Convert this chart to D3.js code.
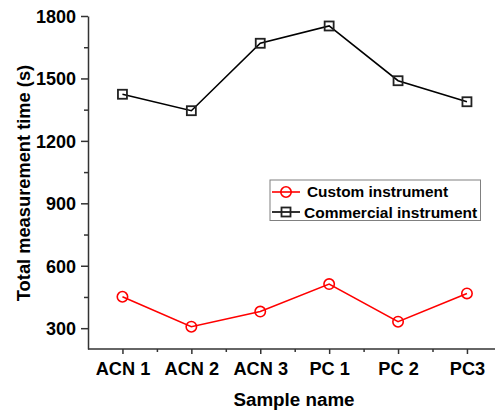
<!DOCTYPE html>
<html><head><meta charset="utf-8">
<script src="https://cdn.jsdelivr.net/npm/d3@7"></script>
<style>body{margin:0;background:#fff}svg{display:block}text{font-family:"Liberation Sans",Arial,sans-serif;font-weight:bold}</style>
</head><body>
<svg id="c" width="495" height="412"></svg>
<script>
const categories = ["ACN 1","ACN 2","ACN 3","PC 1","PC 2","PC3"];
const customValues = [451, 307, 380, 512, 331, 467];
const commercialValues = [1424, 1345, 1669, 1752, 1489, 1388];
const yTicks = [300, 600, 900, 1200, 1500, 1800];
const seriesNames = ["Custom instrument", "Commercial instrument"];

const svg = d3.select("#c");
const mLeft = 88, mBottom = 349, mTop = 16;
const x = d3.scaleLinear().domain([0.5, 6.5]).range([mLeft, mLeft + 6*68.9]);
const y = d3.scaleLinear().domain([200, 1800]).range([mBottom, mTop]);

// Y axis
const yMinor = d3.range(300, 1800, 300).map(v => v + 150);
svg.append("g").attr("transform", `translate(${mLeft},0)`)
  .call(d3.axisLeft(y).tickValues(yMinor).tickSize(4).tickFormat(""))
  .call(g => g.select(".domain").remove())
  .call(g => g.selectAll("line").attr("stroke","#333").attr("stroke-width",1.5));
const ya = svg.append("g").attr("transform", `translate(${mLeft},0)`)
  .call(d3.axisLeft(y).tickValues(yTicks).tickSize(7).tickSizeOuter(0).tickPadding(5).tickFormat(d3.format("d")));
ya.select(".domain").attr("stroke","#333").attr("stroke-width",1.5);
ya.selectAll("line").attr("stroke","#333").attr("stroke-width",1.5);
ya.selectAll("text").attr("font-size",18).attr("fill","#000").attr("dy","0.36em");

// X axis
const xMinor = d3.range(1.5, 6.6, 1);
svg.append("g").attr("transform", `translate(0,${mBottom})`)
  .call(d3.axisBottom(x).tickValues(xMinor).tickSize(3).tickFormat(""))
  .call(g => g.select(".domain").remove())
  .call(g => g.selectAll("line").attr("stroke","#333").attr("stroke-width",1.5));
const xa = svg.append("g").attr("transform", `translate(0,${mBottom})`)
  .call(d3.axisBottom(x).tickValues(d3.range(1,7)).tickSize(5).tickSizeOuter(0).tickPadding(8).tickFormat(i => categories[i-1]));
xa.select(".domain").attr("stroke","#333").attr("stroke-width",1.5).attr("d", `M${mLeft},0H495`);
xa.selectAll("line").attr("stroke","#333").attr("stroke-width",1.5);
xa.selectAll("text").attr("font-size",18.2).attr("fill","#000");

// Axis titles
svg.append("text").attr("transform","translate(30,183) rotate(-90)").attr("text-anchor","middle")
  .attr("font-size",18.3).text("Total measurement time (s)");
svg.append("text").attr("x",294).attr("y",406).attr("text-anchor","middle")
  .attr("font-size",18.8).text("Sample name");

const line = d3.line().x((d,i) => x(i+1)).y(d => y(d));

// Commercial series
svg.append("path").datum(commercialValues).attr("d", line).attr("fill","none").attr("stroke","#000").attr("stroke-width",1.6);
svg.selectAll(".sq").data(commercialValues).enter().append("rect")
  .attr("x",(d,i)=>x(i+1)-4.5).attr("y",d=>y(d)-4.5).attr("width",9).attr("height",9)
  .attr("fill","none").attr("stroke","#222").attr("stroke-width",1.8);

// Custom series
svg.append("path").datum(customValues).attr("d", line).attr("fill","none").attr("stroke","#ff0000").attr("stroke-width",1.6);
svg.selectAll(".ci").data(customValues).enter().append("circle")
  .attr("cx",(d,i)=>x(i+1)).attr("cy",d=>y(d)).attr("r",5.2)
  .attr("fill","none").attr("stroke","#ff0000").attr("stroke-width",1.6);

// Legend
const lg = svg.append("g");
lg.append("rect").attr("x",270).attr("y",180).attr("width",210.5).attr("height",40.5)
  .attr("fill","#fff").attr("stroke","#808080").attr("stroke-width",1);
lg.append("line").attr("x1",272).attr("x2",300).attr("y1",192).attr("y2",192).attr("stroke","#ff0000").attr("stroke-width",1.6);
lg.append("circle").attr("cx",286).attr("cy",192).attr("r",5.2).attr("fill","none").attr("stroke","#ff0000").attr("stroke-width",1.6);
lg.append("line").attr("x1",272).attr("x2",300).attr("y1",212).attr("y2",212).attr("stroke","#000").attr("stroke-width",1.6);
lg.append("rect").attr("x",281.5).attr("y",207.5).attr("width",9).attr("height",9).attr("fill","none").attr("stroke","#222").attr("stroke-width",1.8);
lg.append("text").attr("x",307).attr("y",197).attr("font-size",15.4).text(seriesNames[0]);
lg.append("text").attr("x",304).attr("y",217.5).attr("font-size",15.5).text(seriesNames[1]);
</script>
</body></html>
